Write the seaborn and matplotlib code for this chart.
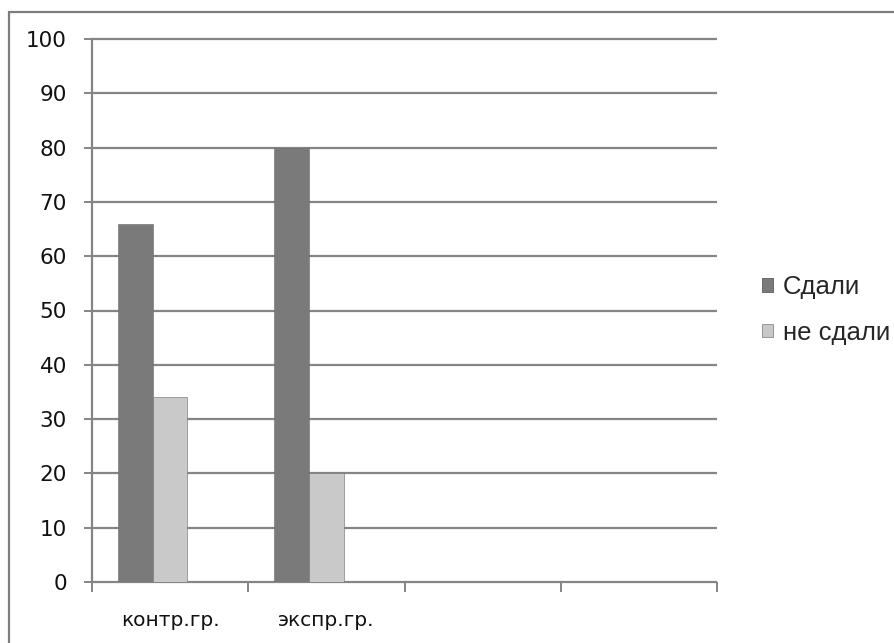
import matplotlib
matplotlib.use("Agg")
import matplotlib.pyplot as plt
import matplotlib.patches as mpatches
from matplotlib.ticker import FixedLocator
import seaborn as sns
import pandas as pd

# ---- data ----
categories = ["контр.гр.", "экспр.гр."]
series_names = ["Сдали", "не сдали", "Ряд 3"]
sdali = [66, 80]
ne_sdali = [34, 20]
y_ticks = [0, 10, 20, 30, 40, 50, 60, 70, 80, 90, 100]
n_slots = 4  # category slots on the axis (two empty)

colors = ["#7a7a7a", "#c9c9c9", "#a0a0a0"]
grid_color = "#858585"

df = pd.DataFrame({
    "group": categories * 2,
    "series": [series_names[0]] * len(categories) + [series_names[1]] * len(categories),
    "value": sdali + ne_sdali,
})

sns.set_theme(style="white")
plt.rcParams["font.family"] = ["DejaVu Sans"]

fig = plt.figure(figsize=(8.94, 6.43), dpi=100)
ax = fig.add_axes([92 / 894, 1 - 582 / 643, (717 - 92) / 894, (582 - 39) / 643])

sns.barplot(data=df, x="group", y="value", hue="series", order=categories,
            hue_order=series_names, palette=colors, width=0.667,
            saturation=1, legend=False, ax=ax, edgecolor="#6a6a6a", linewidth=0.4)

ax.set_xlim(-0.5, n_slots - 0.5)
ax.set_ylim(0, 100)
ax.set_axisbelow(True)

# horizontal gridlines
ax.hlines(y_ticks, -0.5, n_slots - 0.5, colors=grid_color, linewidth=1.6,
          clip_on=False, zorder=0.5)

for s in ["top", "right", "bottom"]:
    ax.spines[s].set_visible(False)
ax.spines["left"].set_color(grid_color)
ax.spines["left"].set_linewidth(1.6)

ax.set_yticks(y_ticks)
ax.set_yticklabels([str(v) for v in y_ticks], fontsize=15.5, color="#111111")
ax.tick_params(axis="y", which="major", direction="out", length=6, width=1.4,
               color=grid_color, pad=12, left=True)

ax.set_xticks(range(len(categories)))
ax.set_xticklabels(categories, fontsize=14.5, color="#111111")
ax.tick_params(axis="x", which="major", length=0, pad=21)
ax.xaxis.set_minor_locator(FixedLocator([i - 0.5 for i in range(n_slots + 1)]))
ax.tick_params(axis="x", which="minor", direction="out", length=7, width=1.4,
               color=grid_color, bottom=True)

ax.set_xlabel("")
ax.set_ylabel("")
ax.patch.set_alpha(0)

handles = [mpatches.Patch(facecolor=colors[0], edgecolor="#5a5a5a", linewidth=0.6),
           mpatches.Patch(facecolor=colors[1], edgecolor="#8a8a8a", linewidth=0.6)]
fig.legend(handles, series_names[:2], loc="center left",
           bbox_to_anchor=(762 / 894, 1 - 310 / 643), frameon=False,
           prop={"family": "Liberation Sans", "size": 18.5},
           handlelength=0.42, handleheight=0.42, handletextpad=0.4,
           labelspacing=0.85, borderpad=0, borderaxespad=0)

# outer frame (left and top edges visible)
frame = mpatches.Rectangle((9 / 894, -0.2), 2.0, (643 - 12) / 643 + 0.2,
                           transform=fig.transFigure, fill=False,
                           edgecolor="#7d7d7d", linewidth=1.6)
fig.patches.append(frame)

fig.savefig("out.png", dpi=100, facecolor="white")
